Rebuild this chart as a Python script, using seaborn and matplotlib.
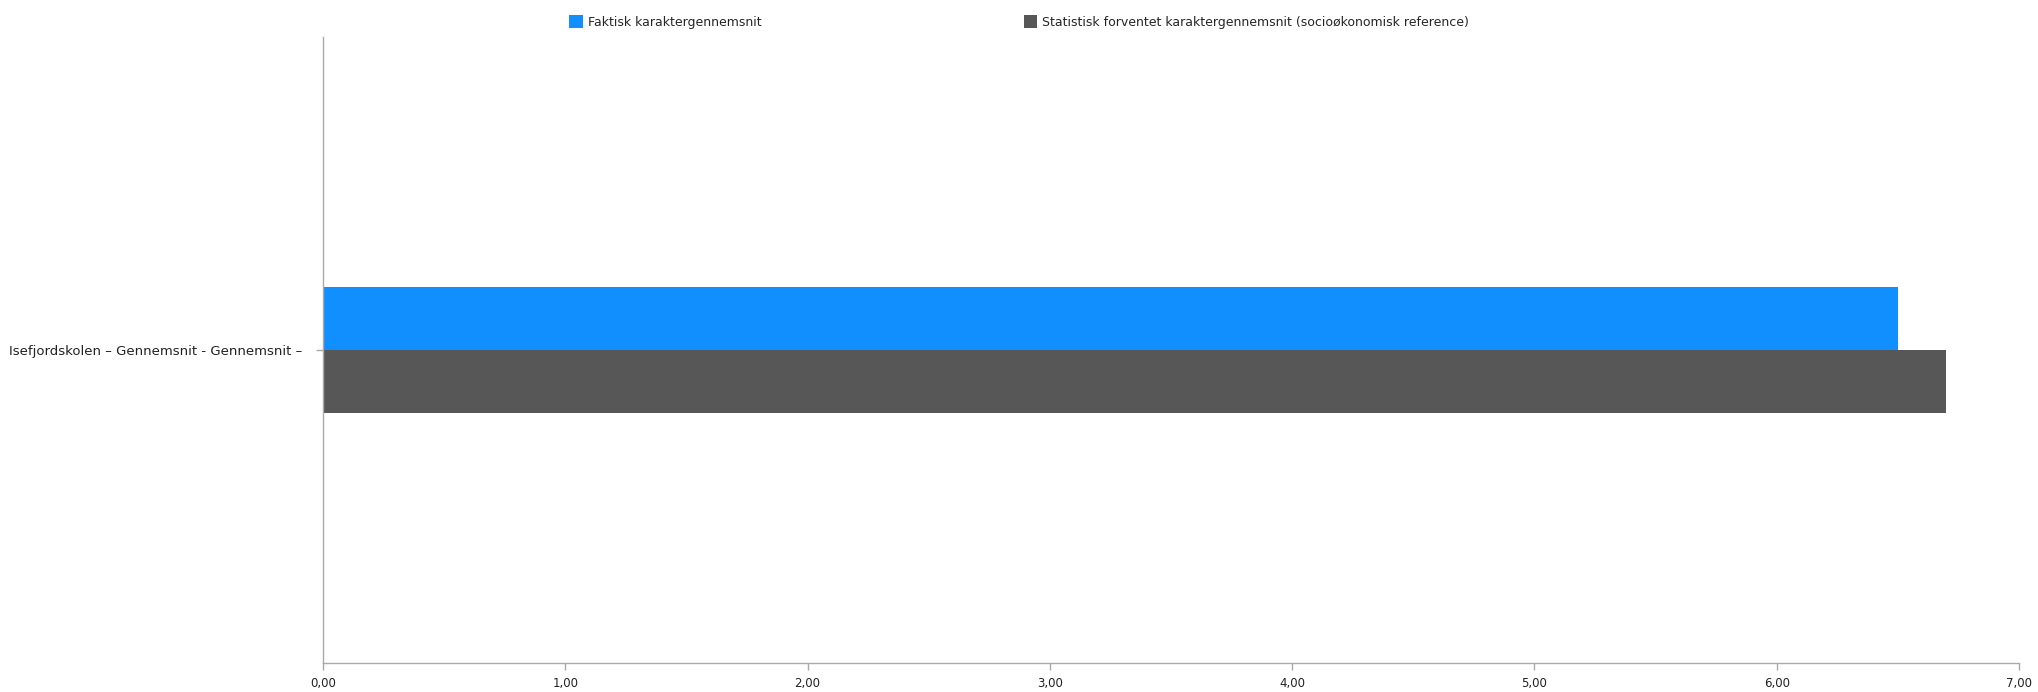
import matplotlib
matplotlib.use("Agg")
import matplotlib.pyplot as plt
import seaborn as sns
import pandas as pd
from matplotlib.ticker import FuncFormatter
from matplotlib.patches import Patch

categories = ["Isefjordskolen – Gennemsnit - Gennemsnit –"]
series_names = ["Faktisk karaktergennemsnit",
                "Statistisk forventet karaktergennemsnit (socioøkonomisk reference)"]
faktisk = [6.50]
forventet = [6.70]
colors = ["#118FFF", "#575757"]
xticks = [0, 1, 2, 3, 4, 5, 6, 7]

rows = []
for c, v in zip(categories, faktisk):
    rows.append({"cat": c, "val": v, "series": series_names[0]})
for c, v in zip(categories, forventet):
    rows.append({"cat": c, "val": v, "series": series_names[1]})
df = pd.DataFrame(rows)

sns.set_theme(style="white")
plt.rcParams["font.family"] = ["DejaVu Sans"]

fig = plt.figure(figsize=(20.38, 6.92), dpi=100)
ax = fig.add_axes([323/2038, 1 - 663/692, (2019 - 323)/2038, (663 - 37)/692])

sns.barplot(data=df, x="val", y="cat", hue="series", hue_order=series_names,
            palette=colors, orient="h", width=0.2, dodge=True, ax=ax,
            linewidth=0, saturation=1, errorbar=None, legend=False)

ax.set_xlim(0, 7)
ax.set_ylim(0.5, -0.5)
ax.set_xticks(xticks)
ax.xaxis.set_major_formatter(FuncFormatter(lambda v, p: f"{v:.2f}".replace(".", ",")))
ax.set_xlabel("")
ax.set_ylabel("")
for s in ["top", "right"]:
    ax.spines[s].set_visible(False)
for s in ["left", "bottom"]:
    ax.spines[s].set_color("#A9A9A9")
    ax.spines[s].set_linewidth(1.0)
ax.tick_params(axis="x", which="major", bottom=True, length=5, width=1,
               color="#A9A9A9", labelsize=8.5, labelcolor="#222222", pad=5)
ax.tick_params(axis="y", which="major", left=True, length=5, width=1,
               color="#A9A9A9", labelsize=9.5, labelcolor="#222222", pad=10)
ax.grid(False)

handles = [Patch(facecolor=colors[0], edgecolor="none"),
           Patch(facecolor=colors[1], edgecolor="none")]
fig.legend(handles, series_names, loc="center", bbox_to_anchor=(0.5, 1 - 22/692),
           ncol=2, frameon=False, fontsize=9, handlelength=1.1, handleheight=1.2,
           handletextpad=0.35, columnspacing=21)

fig.savefig("out.png", dpi=100, facecolor="white")
